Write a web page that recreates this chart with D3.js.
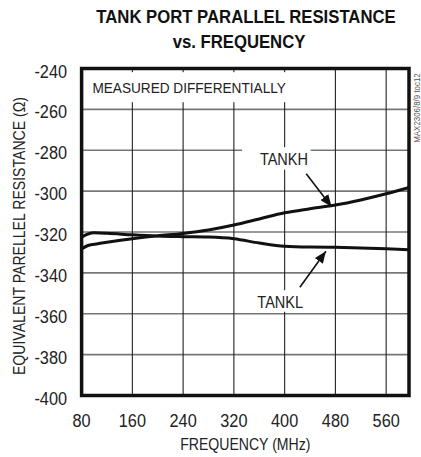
<!DOCTYPE html>
<html>
<head>
<meta charset="utf-8">
<script src="https://cdn.jsdelivr.net/npm/d3@7"></script>
<style>
  body { margin: 0; background: #fff; }
  text { font-family: "Liberation Sans", Arial, sans-serif; fill: #222; }
  .title { font-weight: bold; font-size: 19px; fill: #111; }
  .tick-label { font-size: 18.5px; }
  .axis-label { font-size: 16px; }
  .note { font-size: 15.5px; }
  .tag { font-size: 16.5px; }
</style>
</head>
<body>
<svg id="chart" width="421" height="457"></svg>
<script>

// ---------------------------//
//       DATA                 //
// ---------------------------//

var freq      = [80, 90, 100, 120, 160, 200, 240, 280, 320, 360, 400, 440, 480, 520, 560, 596];
var tankH     = [-328.3, -326.6, -326, -325, -323.3, -321.9, -320.7, -319, -316.6, -313.6, -310.6, -308.6, -306.8, -304.3, -301.3, -298.2];
var tankL     = [-322.5, -321, -320.4, -320.6, -321.4, -322, -322.3, -322.5, -323.3, -325.4, -327, -327.4, -327.5, -327.8, -328.2, -328.7];
var xTicks    = [80, 160, 240, 320, 400, 480, 560];
var yTicks    = [-240, -260, -280, -300, -320, -340, -360, -380, -400];

var svg = d3.select("#chart");
var NARROW = 0.88;   // squeeze Liberation Sans to look like a narrow face

// text helper: places a horizontally squeezed text at px,py
function narrow(g, px, py, rot) {
  return g.append("text")
    .attr("transform", "translate(" + px + "," + py + ")" + (rot ? " rotate(" + rot + ")" : "") + " scale(" + NARROW + ",1)");
}

// ---------------------------//
//       AXIS  AND SCALE      //
// ---------------------------//

var x = d3.scaleLinear()
    .domain([80, 596])
    .range([81.6, 409]);

var y = d3.scaleLinear()
    .domain([-400, -240])
    .range([395.5, 68.5]);

// horizontal grid (gray)
svg.append("g")
  .selectAll("line")
  .data(yTicks.slice(1, -1))
  .enter()
  .append("line")
    .attr("x1", x(80)).attr("x2", x(596))
    .attr("y1", function(d){ return y(d) })
    .attr("y2", function(d){ return y(d) })
    .attr("stroke", "#777")
    .attr("stroke-width", 1.6);

// vertical grid (black, thin)
svg.append("g")
  .selectAll("line")
  .data(xTicks.slice(1))
  .enter()
  .append("line")
    .attr("x1", function(d){ return x(d) })
    .attr("x2", function(d){ return x(d) })
    .attr("y1", y(-240)).attr("y2", y(-400))
    .attr("stroke", "#222")
    .attr("stroke-width", 1.1);

// tick labels
var yLab = svg.append("g");
yTicks.forEach(function(d){
  narrow(yLab, 67, y(d) + 9)
    .attr("class", "tick-label")
    .attr("text-anchor", "end")
    .text(d);
});

var xLab = svg.append("g");
xTicks.forEach(function(d){
  narrow(xLab, x(d), 427)
    .attr("class", "tick-label")
    .attr("text-anchor", "middle")
    .text(d);
});

// axis labels
narrow(svg, x(338), 450)
  .attr("class", "axis-label")
  .attr("text-anchor", "middle")
  .text("FREQUENCY (MHz)");

narrow(svg, 25, y(-322), -90)
  .attr("class", "axis-label")
  .attr("text-anchor", "middle")
  .text("EQUIVALENT PARELLEL RESISTANCE (\u03A9)");

// title
narrow(svg, 246, 23)
  .attr("class", "title")
  .attr("text-anchor", "middle")
  .text("TANK PORT PARALLEL RESISTANCE");
narrow(svg, 239, 48)
  .attr("class", "title")
  .attr("text-anchor", "middle")
  .text("vs. FREQUENCY");

// side code
narrow(svg, 420, 108, -90)
  .attr("text-anchor", "middle")
  .style("font-size", "9px")
  .style("fill", "#555")
  .text("MAX2306/8/9 toc12");

// ---------------------------//
//       LABEL BOXES          //
// ---------------------------//

function whiteBox(x0, y0, x1, y1) {
  svg.append("rect")
    .attr("x", x(x0)).attr("y", y(y0))
    .attr("width", x(x1) - x(x0))
    .attr("height", y(y1) - y(y0))
    .attr("fill", "#fff");
}
whiteBox(87, -241.8, 417, -256.5);
whiteBox(333, -278.5, 441, -289.5);
whiteBox(343, -348.5, 436, -359);

narrow(svg, x(97), y(-252.2))
  .attr("class", "note")
  .text("MEASURED DIFFERENTIALLY");

narrow(svg, x(361), y(-287.2))
  .attr("class", "tag")
  .text("TANKH");

narrow(svg, x(357), y(-357.2))
  .attr("class", "tag")
  .text("TANKL");

// ---------------------------//
//       CURVES               //
// ---------------------------//

var line = d3.line()
  .x(function(d){ return x(d[0]) })
  .y(function(d){ return y(d[1]) })
  .curve(d3.curveMonotoneX);

svg.append("path")
  .datum(d3.zip(freq, tankH))
  .attr("d", line)
  .attr("fill", "none")
  .attr("stroke", "#111")
  .attr("stroke-width", 3);

svg.append("path")
  .datum(d3.zip(freq, tankL))
  .attr("d", line)
  .attr("fill", "none")
  .attr("stroke", "#111")
  .attr("stroke-width", 3);

// ---------------------------//
//       ARROWS               //
// ---------------------------//

svg.append("defs").append("marker")
  .attr("id", "head")
  .attr("viewBox", "0 0 12 10")
  .attr("refX", 12).attr("refY", 5)
  .attr("markerWidth", 12).attr("markerHeight", 10)
  .attr("markerUnits", "userSpaceOnUse")
  .attr("orient", "auto")
  .append("path")
    .attr("d", "M0,0 L12,5 L0,10 Z")
    .attr("fill", "#111");

function arrow(f0, v0, f1, v1) {
  svg.append("line")
    .attr("x1", x(f0)).attr("y1", y(v0))
    .attr("x2", x(f1)).attr("y2", y(v1))
    .attr("stroke", "#111")
    .attr("stroke-width", 1.6)
    .attr("marker-end", "url(#head)");
}
arrow(434, -291.5, 474, -307.6);
arrow(424, -347, 465, -329.4);

// ---------------------------//
//       FRAME                //
// ---------------------------//

svg.append("rect")
  .attr("x", x(80)).attr("y", y(-240))
  .attr("width", x(596) - x(80))
  .attr("height", y(-400) - y(-240))
  .attr("fill", "none")
  .attr("stroke", "#111")
  .attr("stroke-width", 3.5);

</script>
</body>
</html>
